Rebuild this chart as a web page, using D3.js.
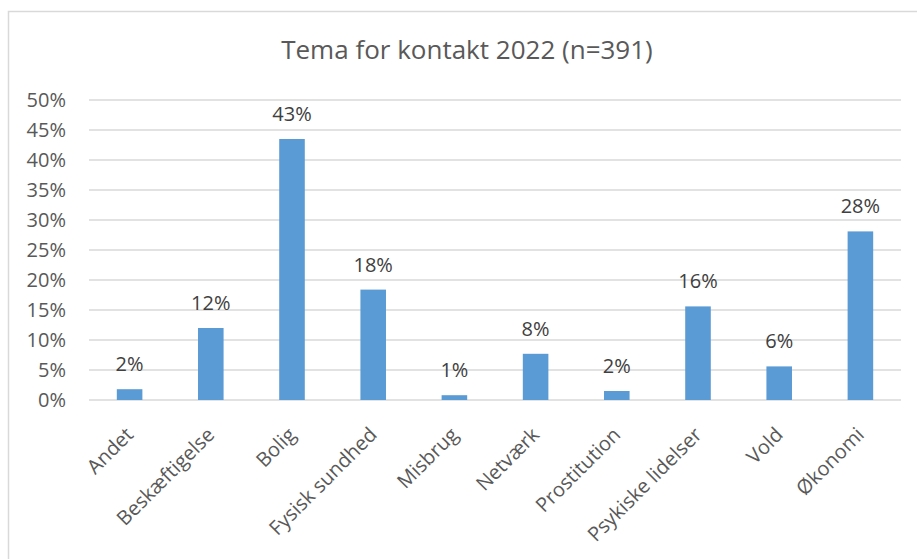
<!DOCTYPE html>
<html>
<head>
<meta charset="utf-8">
<script src="https://cdn.jsdelivr.net/npm/d3@7"></script>
<style>
  body { margin: 0; background: #fff; }
  text { font-family: "Open Sans", "Noto Sans", sans-serif; }
</style>
</head>
<body>
<div id="chart"></div>
<script>
var categories = ["Andet", "Beskæftigelse", "Bolig", "Fysisk sundhed", "Misbrug",
                  "Netværk", "Prostitution", "Psykiske lidelser", "Vold", "Økonomi"];
var values = [1.8, 12.0, 43.5, 18.4, 0.8, 7.7, 1.5, 15.6, 5.6, 28.1];
var labels = ["2%", "12%", "43%", "18%", "1%", "8%", "2%", "16%", "6%", "28%"];
var yTicks = [0, 5, 10, 15, 20, 25, 30, 35, 40, 45, 50];
var title = "Tema for kontakt 2022 (n=391)";

var width = 917, height = 559;
var margin = {top: 100, right: 16, bottom: 159, left: 89};

var svg = d3.select("#chart").append("svg")
    .attr("width", width)
    .attr("height", height);

// chart border (runs past right and bottom edge)
svg.append("rect")
    .attr("x", 8.5).attr("y", 11.5)
    .attr("width", 940).attr("height", 560)
    .attr("fill", "none")
    .attr("stroke", "#d9d9d9")
    .attr("stroke-width", 1.5);

var x = d3.scaleBand()
    .domain(categories)
    .range([margin.left, width - margin.right])
    .paddingInner(0.685)
    .paddingOuter(0.3425);

var y = d3.scaleLinear()
    .domain([0, 50])
    .range([height - margin.bottom, margin.top]);

// gridlines
svg.append("g")
  .selectAll("line")
  .data(yTicks)
  .enter()
  .append("line")
    .attr("x1", margin.left)
    .attr("x2", width - margin.right)
    .attr("y1", function(d){ return y(d); })
    .attr("y2", function(d){ return y(d); })
    .attr("stroke", "#d9d9d9")
    .attr("stroke-width", 1.3);

// y tick labels
svg.append("g")
  .selectAll("text")
  .data(yTicks)
  .enter()
  .append("text")
    .attr("x", 66)
    .attr("y", function(d){ return y(d); })
    .attr("dy", "0.36em")
    .attr("text-anchor", "end")
    .attr("font-size", 20)
    .attr("fill", "#595959")
    .text(function(d){ return d + "%"; });

// bars
svg.append("g")
  .selectAll("rect")
  .data(values)
  .enter()
  .append("rect")
    .attr("x", function(d, i){ return x(categories[i]); })
    .attr("y", function(d){ return y(d); })
    .attr("width", x.bandwidth())
    .attr("height", function(d){ return y(0) - y(d); })
    .attr("fill", "#5b9bd5");

// data labels
svg.append("g")
  .selectAll("text")
  .data(values)
  .enter()
  .append("text")
    .attr("x", function(d, i){ return x(categories[i]) + x.bandwidth() / 2; })
    .attr("y", function(d){ return y(d) - 18; })
    .attr("text-anchor", "middle")
    .attr("font-size", 20)
    .attr("fill", "#404040")
    .text(function(d, i){ return labels[i]; });

// category labels, rotated
svg.append("g")
  .selectAll("text")
  .data(categories)
  .enter()
  .append("text")
    .attr("transform", function(d){
      return "translate(" + (x(d) + x.bandwidth() / 2) + "," + (y(0) + 31) + ") rotate(-45)";
    })
    .attr("dy", "0.35em")
    .attr("text-anchor", "end")
    .attr("font-size", 20)
    .attr("fill", "#595959")
    .text(function(d){ return d; });

// title
svg.append("text")
    .attr("x", 467)
    .attr("y", 59)
    .attr("text-anchor", "middle")
    .attr("font-size", 26)
    .attr("fill", "#595959")
    .text(title);
</script>
</body>
</html>
